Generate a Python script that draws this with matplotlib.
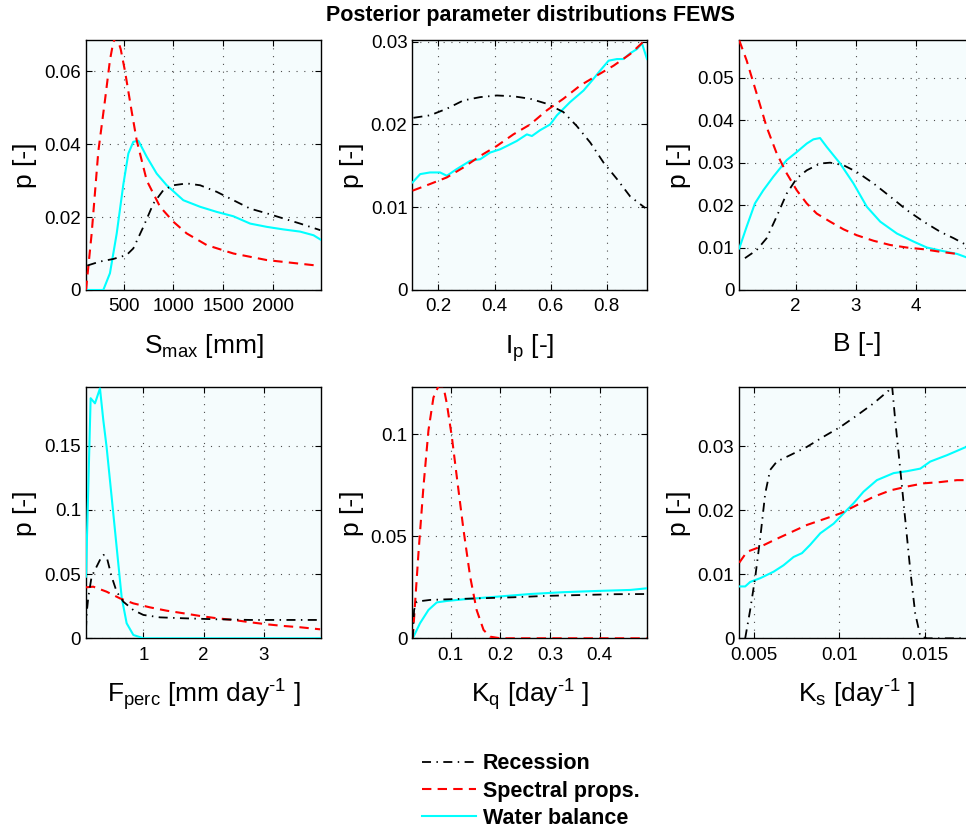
"""Posterior parameter distributions FEWS."""
import matplotlib
matplotlib.use('Agg')
from matplotlib import pyplot as plt
from matplotlib.ticker import FuncFormatter

plt.rcParams['font.family'] = ['Liberation Sans', 'DejaVu Sans']
plt.rcParams['mathtext.fontset'] = 'custom'
plt.rcParams['mathtext.rm'] = 'Liberation Sans'
plt.rcParams['mathtext.it'] = 'Liberation Sans:italic'
plt.rcParams['mathtext.bf'] = 'Liberation Sans:bold'

# ---- S_max [mm]
smax_rec_x = [134, 262, 396, 530, 597, 698, 799, 900, 1000, 1134, 1269, 1436, 1604, 1772, 1940, 2107, 2275, 2477]
smax_rec_y = [0.0067, 0.0078, 0.0085, 0.0096, 0.0114, 0.0173, 0.0237, 0.0274, 0.0287, 0.0292, 0.0287, 0.0269,
              0.0246, 0.0223, 0.0210, 0.0196, 0.0182, 0.0164]
smax_spec_x = [121, 178, 245, 312, 362, 396, 430, 470, 513, 580, 631, 732, 866, 1000, 1134, 1336, 1604, 1940, 2443]
smax_spec_y = [0.0, 0.0155, 0.038, 0.052, 0.063, 0.068, 0.0695, 0.066, 0.060, 0.049, 0.041, 0.030, 0.0228, 0.0187,
               0.0155, 0.0123, 0.0100, 0.0082, 0.0067]
smax_wb_x = [121, 295, 362, 430, 497, 547, 597, 648, 732, 832, 933, 1100, 1269, 1436, 1604, 1772, 1940, 2107, 2275,
             2410, 2487]
smax_wb_y = [0.0, 0.0, 0.0046, 0.0155, 0.029, 0.0374, 0.0406, 0.0409, 0.0365, 0.0319, 0.0287, 0.0246, 0.0228,
             0.0214, 0.0202, 0.0182, 0.0173, 0.0166, 0.0160, 0.0150, 0.0137]

# ---- I_p [-]
ip_rec_x = [0.111, 0.170, 0.230, 0.289, 0.349, 0.408, 0.467, 0.527, 0.586, 0.645, 0.693, 0.741, 0.788, 0.836,
            0.883, 0.937]
ip_rec_y = [0.0208, 0.0211, 0.0219, 0.0229, 0.0233, 0.0235, 0.0234, 0.0231, 0.0225, 0.0215, 0.0198, 0.0178,
            0.0154, 0.0134, 0.0113, 0.0099]
ip_spec_x = [0.108, 0.170, 0.230, 0.289, 0.349, 0.408, 0.467, 0.527, 0.586, 0.645, 0.705, 0.764, 0.824, 0.883, 0.943]
ip_spec_y = [0.0120, 0.0128, 0.0136, 0.0148, 0.0162, 0.0174, 0.0188, 0.0200, 0.0217, 0.0231, 0.0247, 0.0259,
             0.0271, 0.0285, 0.0304]
ip_wb_x = [0.108, 0.135, 0.170, 0.206, 0.230, 0.265, 0.289, 0.313, 0.349, 0.384, 0.420, 0.444, 0.479, 0.515,
           0.533, 0.562, 0.598, 0.622, 0.669, 0.717, 0.752, 0.776, 0.806, 0.836, 0.859, 0.883, 0.907, 0.925, 0.943]
ip_wb_y = [0.0130, 0.0140, 0.0142, 0.0142, 0.0138, 0.0146, 0.0151, 0.0156, 0.0158, 0.0166, 0.0170, 0.0174,
           0.0180, 0.0188, 0.0186, 0.0193, 0.0200, 0.0211, 0.0227, 0.0241, 0.0255, 0.0265, 0.0277, 0.0279,
           0.0279, 0.0286, 0.0291, 0.0298, 0.0279]

# ---- B [-]
b_rec_x = [1.158, 1.352, 1.518, 1.684, 1.850, 2.017, 2.183, 2.404, 2.571, 2.792, 3.014, 3.291, 3.568, 3.845,
           4.122, 4.399, 4.620, 4.830, 4.950]
b_rec_y = [0.0075, 0.0094, 0.0122, 0.0173, 0.0227, 0.0263, 0.0282, 0.0298, 0.0300, 0.0294, 0.0278, 0.0251,
           0.0220, 0.0188, 0.0161, 0.0137, 0.0122, 0.0106, 0.0098]
b_spec_x = [1.064, 1.186, 1.352, 1.518, 1.684, 1.850, 2.017, 2.183, 2.349, 2.571, 2.792, 3.014, 3.291, 3.568,
            3.845, 4.122, 4.399, 4.676]
b_spec_y = [0.0588, 0.0541, 0.0463, 0.0384, 0.0322, 0.0275, 0.0235, 0.0204, 0.0180, 0.0161, 0.0143, 0.0129,
            0.0116, 0.0106, 0.0100, 0.0096, 0.0090, 0.0085]
b_wb_x = [1.064, 1.186, 1.324, 1.463, 1.629, 1.850, 2.017, 2.183, 2.294, 2.404, 2.515, 2.737, 2.958, 3.180,
          3.402, 3.679, 3.956, 4.177, 4.399, 4.676, 4.830, 4.950]
b_wb_y = [0.0098, 0.0149, 0.0204, 0.0235, 0.0267, 0.0306, 0.0325, 0.0345, 0.0355, 0.0358, 0.0337, 0.0298,
          0.0251, 0.0196, 0.0161, 0.0133, 0.0114, 0.0100, 0.0093, 0.0085, 0.0077, 0.0072]

# ---- F_perc [mm day-1]
fp_rec_x = [0.047, 0.060, 0.086, 0.141, 0.224, 0.307, 0.335, 0.390, 0.474, 0.557, 0.668, 0.834, 1.0, 1.277,
            1.665, 2.219, 2.773, 3.327, 3.95]
fp_rec_y = [0.0065, 0.020, 0.032, 0.048, 0.0558, 0.0636, 0.065, 0.0636, 0.048, 0.0363, 0.0285, 0.022, 0.0182,
            0.0163, 0.0156, 0.0148, 0.0143, 0.0143, 0.0143]
fp_spec_x = [0.047, 0.169, 0.390, 0.612, 0.834, 1.11, 1.388, 1.665, 1.942, 2.219, 2.496, 2.773, 3.05, 3.327,
             3.604, 3.936]
fp_spec_y = [0.0397, 0.0402, 0.0363, 0.0311, 0.0272, 0.0241, 0.0215, 0.0195, 0.0174, 0.0156, 0.0143, 0.0125,
             0.0109, 0.0096, 0.0086, 0.0070]
fp_wb_x = [0.047, 0.125, 0.197, 0.280, 0.335, 0.390, 0.474, 0.557, 0.640, 0.723, 0.834, 1.0, 2.0, 3.0, 3.95]
fp_wb_y = [0.048, 0.187, 0.183, 0.1946, 0.170, 0.149, 0.110, 0.071, 0.032, 0.0117, 0.0026, 0.0, 0.0, 0.0, 0.0]

# ---- K_q [day-1]
kq_rec_x = [0.0233, 0.026, 0.0314, 0.058, 0.092, 0.159, 0.226, 0.294, 0.361, 0.428, 0.495]
kq_rec_y = [0.0, 0.0139, 0.018, 0.0188, 0.0191, 0.0196, 0.0201, 0.0208, 0.0212, 0.0216, 0.0217]
kq_spec_x = [0.0233, 0.028, 0.0348, 0.0449, 0.055, 0.065, 0.075, 0.085, 0.092, 0.102, 0.112, 0.1256, 0.139,
             0.152, 0.166, 0.179, 0.200, 0.300, 0.400, 0.495]
kq_spec_y = [0.0, 0.0172, 0.0417, 0.0744, 0.102, 0.118, 0.1235, 0.1235, 0.115, 0.0989, 0.0793, 0.0531, 0.0302,
             0.0139, 0.0041, 0.0008, 0.0, 0.0, 0.0, 0.0]
kq_wb_x = [0.0233, 0.038, 0.055, 0.0718, 0.092, 0.1256, 0.193, 0.26, 0.327, 0.395, 0.462, 0.495]
kq_wb_y = [0.0, 0.0074, 0.0139, 0.0176, 0.0183, 0.0191, 0.0204, 0.0217, 0.0226, 0.0232, 0.0237, 0.0245]

# ---- K_s [day-1]
ks_rec_x = [0.00451, 0.00480, 0.0051, 0.0054, 0.00568, 0.00597, 0.00636, 0.00714, 0.00812, 0.0091, 0.01007,
            0.01104, 0.01202, 0.0129, 0.0131, 0.01328, 0.01358, 0.01387, 0.01416, 0.01445, 0.01475, 0.01514,
            0.0179]
ks_rec_y = [0.0, 0.0044, 0.0096, 0.0159, 0.0226, 0.0263, 0.0276, 0.0286, 0.0299, 0.0315, 0.033, 0.0348, 0.0367,
            0.0387, 0.0394, 0.0341, 0.0263, 0.0185, 0.0107, 0.0039, 0.0003, 0.0, 0.0]
ks_spec_x = [0.00416, 0.00461, 0.0054, 0.00617, 0.00714, 0.00812, 0.0091, 0.01007, 0.01104, 0.01202, 0.0130,
             0.01397, 0.01494, 0.01592, 0.01689, 0.0179]
ks_spec_y = [0.0118, 0.0135, 0.0143, 0.0153, 0.0165, 0.0177, 0.0186, 0.0195, 0.0208, 0.0221, 0.0231, 0.0237,
             0.0242, 0.0244, 0.0247, 0.0247]
ks_wb_x = [0.00416, 0.00451, 0.0048, 0.0054, 0.00617, 0.00675, 0.00734, 0.00783, 0.00831, 0.0089, 0.00968,
           0.01026, 0.01085, 0.01143, 0.01221, 0.01319, 0.01397, 0.01475, 0.01533, 0.01631, 0.01744, 0.0179]
ks_wb_y = [0.0081, 0.0081, 0.0088, 0.0094, 0.0104, 0.0114, 0.0127, 0.0133, 0.0146, 0.0164, 0.0179, 0.0195,
           0.0211, 0.0229, 0.0247, 0.0258, 0.0261, 0.0265, 0.0276, 0.0286, 0.0299, 0.0305]

panels = [
    dict(rec=(smax_rec_x, smax_rec_y), spec=(smax_spec_x, smax_spec_y), wb=(smax_wb_x, smax_wb_y),
         xlim=(121, 2485), ylim=(0, 0.0685), xticks=[500, 1000, 1500, 2000], yticks=[0, 0.02, 0.04, 0.06],
         xlabel=r'S$_{\mathrm{max}}$ [mm]'),
    dict(rec=(ip_rec_x, ip_rec_y), spec=(ip_spec_x, ip_spec_y), wb=(ip_wb_x, ip_wb_y),
         xlim=(0.107, 0.944), ylim=(0, 0.0302), xticks=[0.2, 0.4, 0.6, 0.8], yticks=[0, 0.01, 0.02, 0.03],
         xlabel=r'I$_{\mathrm{p}}$ [-]'),
    dict(rec=(b_rec_x, b_rec_y), spec=(b_spec_x, b_spec_y), wb=(b_wb_x, b_wb_y),
         xlim=(1.063, 4.96), ylim=(0, 0.0589), xticks=[2, 3, 4], yticks=[0, 0.01, 0.02, 0.03, 0.04, 0.05],
         xlabel='B [-]'),
    dict(rec=(fp_rec_x, fp_rec_y), spec=(fp_spec_x, fp_spec_y), wb=(fp_wb_x, fp_wb_y),
         xlim=(0.048, 3.95), ylim=(0, 0.1955), xticks=[1, 2, 3], yticks=[0, 0.05, 0.1, 0.15],
         xlabel=r'F$_{\mathrm{perc}}$ [mm day$^{\text{-1}}$ ]'),
    dict(rec=(kq_rec_x, kq_rec_y), spec=(kq_spec_x, kq_spec_y), wb=(kq_wb_x, kq_wb_y),
         xlim=(0.0224, 0.496), ylim=(0, 0.123), xticks=[0.1, 0.2, 0.3, 0.4], yticks=[0, 0.05, 0.1],
         xlabel=r'K$_{\mathrm{q}}$ [day$^{\text{-1}}$ ]'),
    dict(rec=(ks_rec_x, ks_rec_y), spec=(ks_spec_x, ks_spec_y), wb=(ks_wb_x, ks_wb_y),
         xlim=(0.00416, 0.0179), ylim=(0, 0.0392), xticks=[0.005, 0.01, 0.015], yticks=[0, 0.01, 0.02, 0.03],
         xlabel=r'K$_{\mathrm{s}}$ [day$^{\text{-1}}$ ]'),
]

W, H = 966, 831
fig = plt.figure(figsize=(W / 100, H / 100), dpi=100)

lefts = [86, 412.3, 739.2]
bottoms = [290, 638.3]
heights = [250, 251]
width = 235

fmt = FuncFormatter(lambda v, pos: ('%g' % v))

for i, p in enumerate(panels):
    r, c = divmod(i, 3)
    ax = fig.add_axes([lefts[c] / W, 1 - bottoms[r] / H, width / W, heights[r] / H])
    ax.set_facecolor('#f5fcfd')

    l_wb, = ax.plot(*p['wb'], color='cyan', lw=1.5, zorder=3)
    l_spec, = ax.plot(*p['spec'], color='red', lw=1.5, dashes=(4.5, 3), zorder=4)
    l_rec, = ax.plot(*p['rec'], color='black', lw=1.3, dashes=(5, 3, 0.8, 3), zorder=5)

    ax.set_xlim(p['xlim'])
    ax.set_ylim(p['ylim'])
    ax.set_xticks(p['xticks'])
    ax.set_yticks(p['yticks'])
    ax.xaxis.set_major_formatter(fmt)
    ax.yaxis.set_major_formatter(fmt)
    ax.grid(True, color='0.3', lw=0.8, dashes=(1, 6))
    ax.tick_params(direction='in', length=4, width=0.8, top=True, right=True, labelsize=13.5)
    ax.tick_params(axis='x', pad=6)
    ax.tick_params(axis='y', pad=3.5)
    for s in ax.spines.values():
        s.set_linewidth(1.0)
    ax.set_xlabel(p['xlabel'], fontsize=19, labelpad=12 if r == 0 else 10)
    ax.set_ylabel('p [-]', fontsize=19, labelpad=5)

fig.text(530 / W, 1 - 16 / H, 'Posterior parameter distributions FEWS', ha='center', va='center',
         fontsize=15.5, fontweight='bold')

fig.legend([l_rec, l_spec, l_wb], ['Recession', 'Spectral props.', 'Water balance'],
           loc='center', bbox_to_anchor=(531 / W, 1 - 791 / H), frameon=False,
           prop={'weight': 'bold', 'size': 15.5}, handlelength=2.5, handletextpad=0.3,
           labelspacing=0.28)

fig.savefig('out.png', dpi=100)
